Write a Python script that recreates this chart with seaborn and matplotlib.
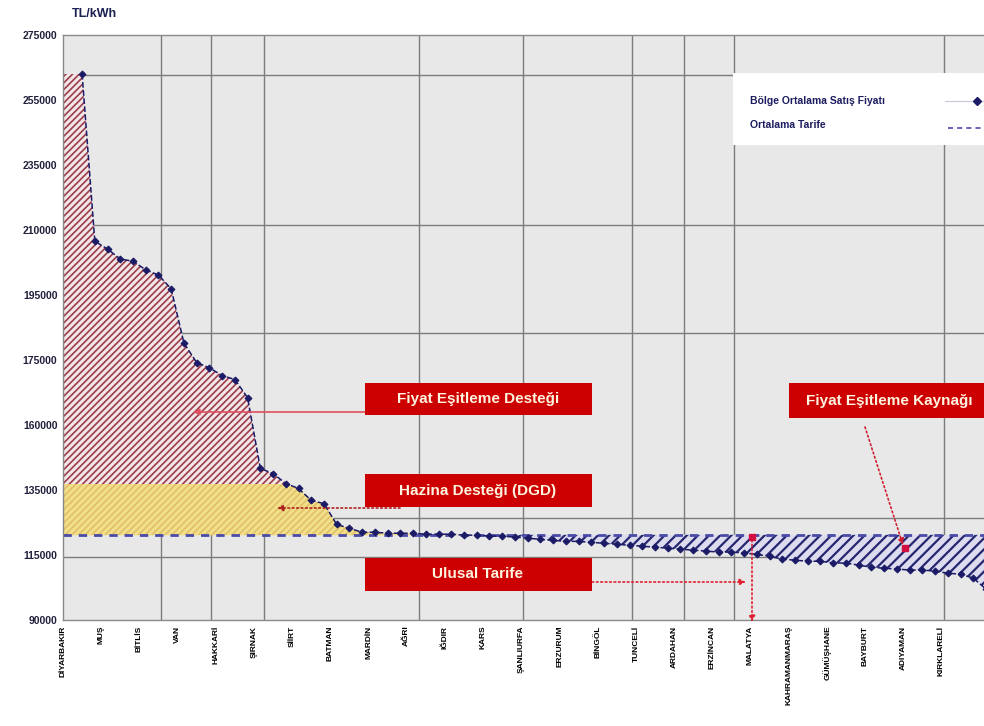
import numpy as np
import pandas as pd
import seaborn as sns
import matplotlib.pyplot as plt
from matplotlib.patches import Rectangle
from matplotlib.lines import Line2D

W, H = 984, 726

# y axis labels of the original chart (evenly spaced on the page)
y_tick_labels = [90000, 115000, 135000, 160000, 175000, 195000, 210000, 235000, 255000, 275000]

# regional average sales price, sorted high to low (TL/kWh)
prices = [263000, 207400, 205600, 203300, 202800, 200800, 199600, 196400,
          180200, 174400, 173200, 171400, 170500, 166300, 143300, 141300,
          137500, 135600, 131800, 130800, 124400, 123200, 122000, 122000,
          121700, 121700, 121700, 121400, 121400, 121400, 121100, 121100,
          120800, 120800, 120500, 120200, 119800, 119500, 119200, 119200,
          118900, 118600, 118300, 118000, 117700, 117400, 117100, 116800,
          116500, 116200, 115900, 115900, 115600, 115200, 114500, 113400,
          113000, 112600, 112600, 111900, 111900, 111100, 110300, 109900,
          109600, 109200, 109200, 108800, 108000, 107600, 106100, 101900]

avg_tariff = 121200
treasury_top = 137500

x_labels = ['DİYARBAKIR', 'MUŞ', 'BİTLİS', 'VAN', 'HAKKARİ', 'ŞIRNAK',
            'SİİRT', 'BATMAN', 'MARDİN', 'AĞRI', 'IĞDIR', 'KARS',
            'ŞANLIURFA', 'ERZURUM', 'BİNGÖL', 'TUNCELİ', 'ARDAHAN', 'ERZİNCAN',
            'MALATYA', 'KAHRAMANMARAŞ', 'GÜMÜŞHANE', 'BAYBURT', 'ADIYAMAN', 'KIRKLARELİ']

legend_labels = ['Bölge Ortalama Satış Fiyatı', 'Ortalama Tarife']

# grid lines of the original (x in category units, y in TL/kWh)
grid_x = [6.17, 10.1, 14.3, 26.5, 34.6, 43.2, 47.3, 51.2, 67.7]
grid_y = [262800, 212000, 183400, 126300, 114200]

NAVY = '#1a1a66'
RED = '#cc0000'
TARIFF_BLUE = '#4a4aa8'


def fxy(px, py):
    return (px / W, 1 - py / H)


def main():
    sns.set_style('white')
    plt.rcParams['font.family'] = ['Liberation Sans', 'DejaVu Sans']

    df = pd.DataFrame({'idx': np.arange(len(prices)), 'price': prices})

    fig = plt.figure(figsize=(W / 100, H / 100), dpi=100)
    ax = fig.add_axes([63 / W, 1 - 620 / H, (1000 - 63) / W, (620 - 35) / H])
    ax.set_facecolor('#e8e8e8')

    pos = np.arange(len(y_tick_labels))
    ax.set_yscale('function', functions=(lambda v: np.interp(v, y_tick_labels, pos),
                                         lambda p: np.interp(p, pos, y_tick_labels)))

    for gx in grid_x:
        ax.axvline(gx, color='#7c7c7c', lw=1, zorder=0.5)
    for gy in grid_y:
        ax.axhline(gy, color='#7c7c7c', lw=1, zorder=0.5)

    x_fill = np.r_[-1.5, df['idx'].values]
    y_fill = np.r_[prices[0], df['price'].values]

    with plt.rc_context({'hatch.linewidth': 1.2}):
        ax.fill_between(x_fill, avg_tariff, y_fill, where=y_fill > avg_tariff, interpolate=True,
                        facecolor='#f2e6e8', edgecolor='#9a3e4a', hatch='/////', lw=0, zorder=1)
    ax.fill_between(x_fill, avg_tariff, np.minimum(y_fill, treasury_top), where=y_fill > avg_tariff,
                    interpolate=True, facecolor='#f2df72', alpha=0.8, lw=0, zorder=1.2)
    with plt.rc_context({'hatch.linewidth': 1.6}):
        ax.fill_between(x_fill, y_fill, avg_tariff, where=y_fill < avg_tariff, interpolate=True,
                        facecolor='#dcdcee', edgecolor='#262670', hatch='///', lw=0, zorder=1)

    ax.axhline(avg_tariff, color=TARIFF_BLUE, lw=2, ls=(0, (3, 2.5)), zorder=2)
    sns.lineplot(data=df, x='idx', y='price', ax=ax, color=NAVY, lw=1.1, ls='--',
                 marker='D', markersize=3.5, markeredgecolor=NAVY, zorder=3)

    ax.set_xlim(-1.5, 72.1)
    ax.set_ylim(90000, 275000)
    ax.set_yticks(y_tick_labels)
    ax.set_yticklabels([str(v) for v in y_tick_labels], fontsize=7.5, fontweight='bold', color='#20203c')
    ax.set_xticks(np.arange(len(x_labels)) * 3 - 1.5)
    ax.set_xticklabels(x_labels, rotation=90, fontsize=6, fontweight='bold', color='black')
    ax.tick_params(length=0, pad=4)
    ax.set_xlabel('')
    ax.set_ylabel('')
    for s in ax.spines.values():
        s.set_color('#8a8a8a')
        s.set_linewidth(1)

    fig.text(*fxy(72, 14), 'TL/kWh', fontsize=9, fontweight='bold', color='#1c2050',
             ha='left', va='center')

    # legend box, drawn by hand so the keys sit at the right edge
    fig.add_artist(Rectangle(fxy(733, 145), (1000 - 733) / W, (145 - 73) / H,
                             transform=fig.transFigure, facecolor='white', edgecolor='none', zorder=5))
    fig.text(*fxy(750, 101), legend_labels[0], fontsize=7.5, fontweight='bold', color='#1c1c60',
             ha='left', va='center', zorder=6)
    fig.text(*fxy(750, 125), legend_labels[1], fontsize=7.5, fontweight='bold', color='#1c1c60',
             ha='left', va='center', zorder=6)
    fig.add_artist(Line2D([945 / W, 1000 / W], [1 - 101 / H] * 2, transform=fig.transFigure,
                          color='#c8c8d8', lw=0.8, zorder=6))
    fig.add_artist(Line2D([977 / W], [1 - 101 / H], transform=fig.transFigure, marker='D',
                          ms=4.5, color=NAVY, ls='', zorder=7))
    fig.add_artist(Line2D([948 / W, 1000 / W], [1 - 128 / H] * 2, transform=fig.transFigure,
                          color=TARIFF_BLUE, lw=1.2, ls=(0, (3, 2.5)), zorder=6))

    # red label boxes
    boxes = [((365, 383, 592, 415), 'Fiyat Eşitleme Desteği', 478),
             ((365, 474, 592, 507), 'Hazina Desteği (DGD)', 478),
             ((365, 558, 592, 591), 'Ulusal Tarife', 478),
             ((789, 383, 1000, 418), 'Fiyat Eşitleme Kaynağı', 889)]
    for (x0, y0, x1, y1), txt, cx in boxes:
        fig.add_artist(Rectangle(fxy(x0, y1), (x1 - x0) / W, (y1 - y0) / H,
                                 transform=fig.transFigure, facecolor=RED, edgecolor='none', zorder=5))
        fig.text(*fxy(cx, (y0 + y1) / 2), txt, fontsize=11, fontweight='bold', color='#fff4e0',
                 ha='center', va='center', zorder=6)

    arrows = [((365, 412), (193, 412), '#e05060', '-'),
              ((400, 508), (277, 508), '#b02020', ':'),
              ((592, 582), (746, 582), '#e02030', ':'),
              ((752, 540), (752, 622), '#e02030', ':'),
              ((865, 427), (903, 545), '#d02030', ':')]
    for start, end, col, ls in arrows:
        ax.annotate('', xy=fxy(*end), xycoords='figure fraction', xytext=fxy(*start),
                    textcoords='figure fraction',
                    arrowprops=dict(arrowstyle='-|>', color=col, lw=1.2, ls=ls,
                                    mutation_scale=9, shrinkA=0, shrinkB=0), zorder=6)
    for px, py in [(752, 537), (905, 548)]:
        fig.add_artist(Line2D([px / W], [1 - py / H], transform=fig.transFigure, marker='s',
                              ms=5, color='#d01040', ls='', zorder=7))

    fig.savefig('out.png', dpi=100)


if __name__ == '__main__':
    main()
